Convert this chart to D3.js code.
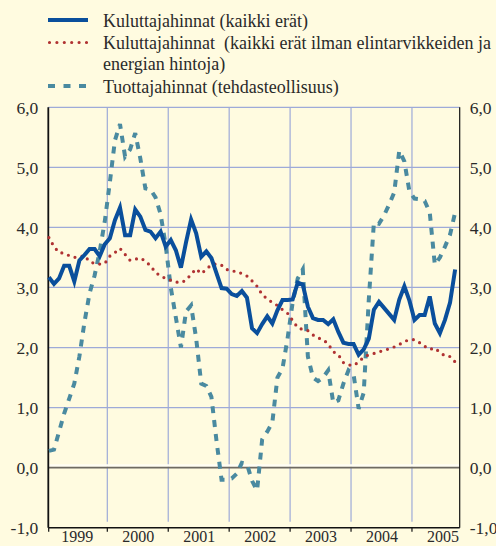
<!DOCTYPE html>
<html><head><meta charset="utf-8">
<script src="https://cdn.jsdelivr.net/npm/d3@7"></script>
<style>
html,body{margin:0;padding:0;background:#fffbe0;}
svg{display:block;}
text{font-family:"Liberation Serif","Times New Roman",serif;fill:#2a2a2a;}
</style>
</head><body>
<svg id="chart" width="496" height="546"></svg>
<script>
// ---- data (monthly, Jan 1999 – Sep 2005, % change) ----
const years = ["1999","2000","2001","2002","2003","2004","2005"];
const yTicks = [-1,0,1,2,3,4,5,6];

const cpiAll = [3.17,3.06,3.15,3.36,3.36,3.10,3.45,3.54,3.64,3.64,3.52,3.72,
  3.82,4.12,4.33,3.87,3.87,4.30,4.18,3.96,3.93,3.82,3.93,3.68,
  3.79,3.62,3.33,3.75,4.13,3.90,3.51,3.60,3.49,3.24,2.99,2.98,
  2.89,2.86,2.94,2.83,2.32,2.24,2.39,2.52,2.40,2.62,2.79,2.79,
  2.80,3.08,3.05,2.68,2.49,2.46,2.46,2.39,2.47,2.26,2.08,2.06,
  2.06,1.88,1.97,2.15,2.63,2.76,2.66,2.56,2.46,2.80,3.02,2.78,
  2.46,2.54,2.54,2.85,2.40,2.24,2.46,2.75,3.30];

const cpiCore = [3.83,3.68,3.58,3.57,3.53,3.50,3.51,3.53,3.43,3.40,3.39,3.40,
  3.52,3.58,3.65,3.55,3.45,3.47,3.49,3.44,3.36,3.25,3.19,3.15,
  3.12,3.09,3.08,3.12,3.22,3.31,3.23,3.30,3.38,3.39,3.37,3.30,
  3.27,3.27,3.23,3.19,3.11,3.02,2.88,2.81,2.75,2.70,2.63,2.57,
  2.45,2.33,2.30,2.28,2.21,2.16,2.13,2.06,1.93,1.88,1.75,1.71,
  1.70,1.76,1.84,1.88,1.90,1.93,1.95,1.98,2.01,2.05,2.10,2.13,
  2.13,2.08,2.02,1.97,1.99,1.92,1.86,1.85,1.76];

const ppi = [0.28,0.30,0.60,0.90,1.15,1.40,1.85,2.42,2.90,3.20,3.60,4.10,
  4.75,5.45,5.72,5.18,5.30,5.57,5.15,4.65,4.63,4.50,4.22,3.70,
  3.00,2.50,2.00,2.60,2.70,2.15,1.40,1.36,1.18,0.45,-0.20,-0.20,
  -0.18,-0.10,0.08,0.06,-0.22,-0.38,0.47,0.60,0.75,1.50,1.65,2.15,
  2.75,3.15,3.30,1.85,1.50,1.44,1.50,1.62,1.08,1.12,1.40,1.62,
  1.55,0.98,1.25,2.80,4.08,4.06,4.20,4.38,4.58,5.28,5.10,4.60,
  4.48,4.47,4.44,4.25,3.38,3.50,3.68,3.88,4.25];

const legendLabels = [
  ["Kuluttajahinnat (kaikki erät)"],
  ["Kuluttajahinnat  (kaikki erät ilman elintarvikkeiden ja", "energian hintoja)"],
  ["Tuottajahinnat (tehdasteollisuus)"]
];

// ---- styles ----
const C = {
  bg:"#fffbe0", grid:"#9eaad8", axis:"#111", zero:"#6e6a62",
  blue:"#0a4f9c", red:"#b03232", teal:"#4a8aa0"
};

const svg = d3.select("#chart");
svg.append("rect").attr("width",496).attr("height",546).attr("fill",C.bg);

const x = d3.scaleLinear().domain([-0.12, 80.9]).range([48.3, 459.7]);
const y = d3.scaleLinear().domain([-1, 6]).range([527.7, 107.3]);
const L = x.range()[0], R = x.range()[1];

const fmt = d => (d < 0 ? "-" : "") + Math.abs(d).toFixed(1).replace(".", ",");

// horizontal grid
svg.append("g").selectAll("line").data(yTicks.filter(v => v > 0)).join("line")
  .attr("x1", L).attr("x2", R).attr("y1", d => y(d)).attr("y2", d => y(d))
  .attr("stroke", C.grid).attr("stroke-width", 1.2);

// vertical grid (year boundaries)
const bounds = d3.range(1, years.length).map(k => 12*k - 0.5);
svg.append("g").selectAll("line").data(bounds).join("line")
  .attr("x1", d => x(d)).attr("x2", d => x(d))
  .attr("y1", y(6)).attr("y2", y(-1) - 6)
  .attr("stroke", C.grid).attr("stroke-width", 1.2);

// zero line with light band
svg.append("line").attr("x1", L).attr("x2", R).attr("y1", y(0) - 2.2).attr("y2", y(0) - 2.2)
  .attr("stroke", "#fffef4").attr("stroke-width", 2.5);
svg.append("line").attr("x1", L).attr("x2", R).attr("y1", y(0)).attr("y2", y(0))
  .attr("stroke", C.zero).attr("stroke-width", 1.8);

// axes lines
svg.append("line").attr("x1", L).attr("x2", L).attr("y1", y(6)).attr("y2", y(-1))
  .attr("stroke", C.axis).attr("stroke-width", 1.8);
svg.append("line").attr("x1", R).attr("x2", R).attr("y1", y(6)).attr("y2", y(-1))
  .attr("stroke", C.axis).attr("stroke-width", 1.2);
svg.append("line").attr("x1", L).attr("x2", R).attr("y1", y(-1)).attr("y2", y(-1))
  .attr("stroke", C.axis).attr("stroke-width", 1.4);
// bottom tick marks
svg.append("g").selectAll("line").data([-0.12, ...bounds]).join("line")
  .attr("x1", d => x(d) + (d < 0 ? 0.4 : 0)).attr("x2", d => x(d) + (d < 0 ? 0.4 : 0))
  .attr("y1", y(-1)).attr("y2", y(-1) + 4)
  .attr("stroke", C.axis).attr("stroke-width", 1.2);

// y axis labels via d3 axes
const axL = svg.append("g").attr("transform", `translate(${L - 10},0)`)
  .call(d3.axisLeft(y).tickValues(yTicks).tickFormat(fmt).tickSize(0).tickPadding(0));
const axR = svg.append("g").attr("transform", `translate(${R + 10},0)`)
  .call(d3.axisRight(y).tickValues(yTicks).tickFormat(fmt).tickSize(0).tickPadding(0));
[axL, axR].forEach(a => {
  a.select(".domain").remove();
  a.selectAll("text").attr("font-size", 17.5).attr("fill", "#2a2a2a")
    .attr("font-family", '"Liberation Serif",serif').attr("dy", "0.35em");
});

// year labels
const axB = svg.append("g").attr("transform", `translate(0,${y(-1)})`)
  .call(d3.axisBottom(x).tickValues(years.map((d, k) => 12*k + 5.5))
    .tickFormat((d, k) => years[k]).tickSize(0).tickPadding(0));
axB.select(".domain").remove();
axB.selectAll("text").attr("font-size", 16).attr("fill", "#2a2a2a")
  .attr("font-family", '"Liberation Serif",serif').attr("dy", null).attr("y", 14.3);

// lines
const line = d3.line().x((d, i) => x(i)).y(d => y(d));
svg.append("path").datum(ppi).attr("d", line).attr("fill", "none")
  .attr("stroke", C.teal).attr("stroke-width", 4).attr("stroke-dasharray", "7,7");
svg.append("path").datum(cpiCore).attr("d", line).attr("fill", "none")
  .attr("stroke", C.red).attr("stroke-width", 3.2).attr("stroke-linecap", "round")
  .attr("stroke-dasharray", "0,7");
svg.append("path").datum(cpiAll).attr("d", line).attr("fill", "none")
  .attr("stroke", C.blue).attr("stroke-width", 4).attr("stroke-linejoin", "miter");

// legend
const legY = [20, 42.5, 86];
const legStyles = [
  {stroke: C.blue, w: 4, dash: null, cap: "butt"},
  {stroke: C.red, w: 3.2, dash: "0,7.4", cap: "round"},
  {stroke: C.teal, w: 4, dash: "7,8.5", cap: "butt"}
];
const leg = svg.append("g");
legendLabels.forEach((lines, k) => {
  const s = legStyles[k];
  leg.append("line").attr("x1", s.cap === "round" ? 49.5 : 48).attr("x2", 88)
    .attr("y1", legY[k]).attr("y2", legY[k])
    .attr("stroke", s.stroke).attr("stroke-width", s.w)
    .attr("stroke-linecap", s.cap).attr("stroke-dasharray", s.dash);
  const t = leg.append("text").attr("x", 103).attr("y", legY[k] + 6.5)
    .attr("font-size", 18).style("white-space", "pre");
  lines.forEach((ln, j) => {
    t.append("tspan").attr("x", 103).attr("dy", j === 0 ? 0 : 21).text(ln);
  });
});
</script>
</body></html>
